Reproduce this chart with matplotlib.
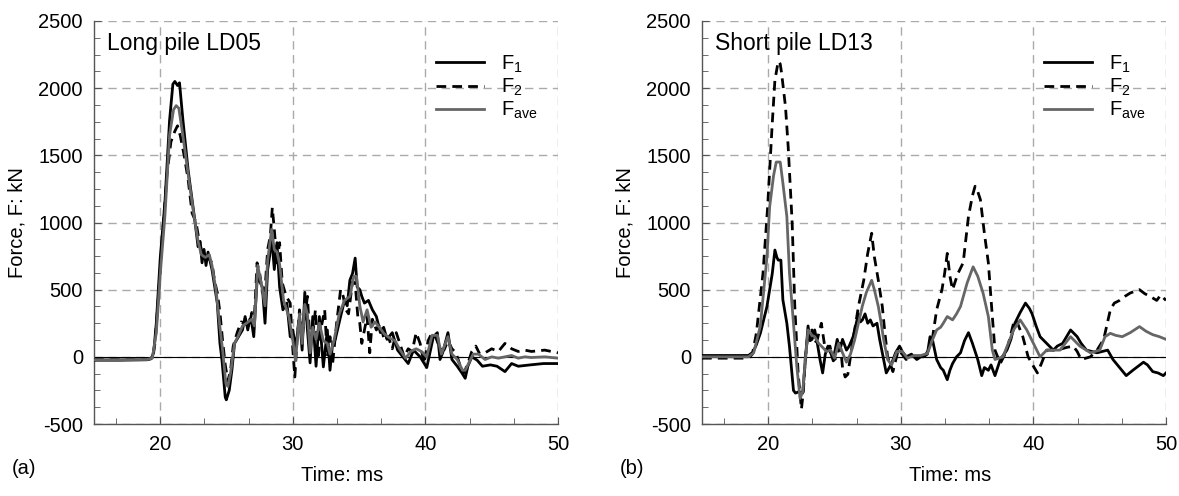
import numpy as np
import matplotlib
matplotlib.use('Agg')
import matplotlib.pyplot as plt
from matplotlib.ticker import MultipleLocator

plt.rcParams['font.family'] = ['Liberation Sans', 'DejaVu Sans']
plt.rcParams['axes.unicode_minus'] = False
plt.rcParams['mathtext.default'] = 'regular'

# ---- (a) Long pile LD05 ----
a_t1 = [15.0, 17.0, 19.0, 19.3, 19.5, 19.7, 20.0, 20.35, 20.7, 20.95, 21.1, 21.3, 21.45, 21.7, 22.1,
        22.6, 22.85, 23.0, 23.15, 23.3, 23.45, 23.6, 23.9, 24.3, 24.5, 24.65, 24.9, 24.98, 25.2, 25.4,
        25.6, 25.9, 26.2, 26.4, 26.6, 26.75, 26.9, 27.05, 27.35, 27.5, 27.7, 27.9, 28.1, 28.25, 28.4,
        28.6, 28.8, 29.0, 29.25, 29.55, 29.8, 30.0, 30.2, 30.5, 30.7, 30.9, 31.1, 31.3, 31.5, 31.75,
        32.0, 32.3, 32.6, 32.8, 33.0, 33.2, 33.6, 33.9, 34.1, 34.3, 34.5, 34.7, 34.85, 35.05, 35.2,
        35.4, 35.7, 36.0, 36.3, 36.6, 36.85, 37.1, 37.5, 37.9, 38.3, 38.7, 39.1, 39.6, 40.1, 40.6,
        40.9, 41.1, 41.3, 41.7, 42.0, 42.4, 42.75, 43.0, 43.2, 43.5, 43.9, 44.3, 44.9, 45.4, 46.0,
        46.5, 47.0, 47.9, 48.9, 50.0]
a_f1 = [-25, -25, -22, -15, 30, 250, 740, 1150, 1760, 2030, 2050, 2020, 2040, 1770, 1390,
        1020, 820, 860, 700, 800, 680, 780, 650, 400, 100, -20, -300, -320, -250, -100,
        100, 150, 200, 300, 200, 280, 250, 150, 650, 560, 520, 250, 650, 750, 900,
        650, 850, 520, 350, 400, 150, 200, 60, 300, 50, 480, 200, -45, 300, -70,
        300, -75, 200, -100, 100, 130, 300, 420, 380, 570, 620, 735, 520, 500, 450,
        400, 420, 350, 300, 180, 220, 130, 180, 50, 0, -50, 50, 0, -80, 150,
        180, -20, 30, 180, -20, -70, -120, -160, -70, 0, -25, -70, -60, -70, -110,
        -50, -70, -60, -50, -50]

a_t2 = [15.0, 19.0, 19.4, 19.6, 19.9, 20.2, 20.5, 20.8, 21.1, 21.3, 21.5, 21.8, 22.1, 22.4, 22.7,
        22.9, 23.1, 23.3, 23.6, 23.9, 24.1, 24.3, 24.5, 24.7, 24.9, 25.1, 25.3, 25.5, 25.8, 26.1,
        26.4, 26.7, 26.9, 27.1, 27.3, 27.5, 27.7, 27.9, 28.1, 28.3, 28.45, 28.6, 28.8, 29.0, 29.2,
        29.5, 29.8, 30.0, 30.15, 30.3, 30.5, 30.7, 30.9, 31.1, 31.3, 31.5, 31.7, 31.9, 32.1, 32.4,
        32.6, 32.8, 33.0, 33.3, 33.6, 33.8, 34.0, 34.2, 34.5, 34.7, 34.9, 35.05, 35.2, 35.4, 35.6,
        35.8, 36.0, 36.3, 36.6, 36.9, 37.2, 37.5, 37.8, 38.1, 38.4, 38.7, 39.0, 39.3, 39.6, 39.9,
        40.2, 40.5, 40.8, 41.1, 41.4, 41.7, 42.0, 42.3, 42.6, 42.9, 43.2, 43.5, 43.8, 44.1, 44.5,
        45.0, 45.5, 46.0, 46.5, 47.0, 47.5, 48.0, 48.5, 49.0, 49.5, 50.0]
a_f2 = [-20, -18, -10, 100, 500, 950, 1350, 1600, 1680, 1720, 1650, 1500, 1320, 1070, 1000,
        880, 800, 750, 740, 700, 560, 480, 330, 120, -60, -180, -100, 80, 180, 260,
        250, 220, 330, 300, 700, 620, 480, 500, 800, 900, 1110, 950, 700, 850, 550,
        450, 400, 50, -150, 100, 350, 150, 300, 450, 100, 150, 350, -20, 200, 350,
        0, 150, -50, 250, 500, 450, 350, 320, 560, 550, 300, 250, 100, 200, 300,
        30, 280, 200, 250, 120, 150, 60, 180, 90, 0, 60, 40, 180, 100, -50,
        120, 180, 140, 60, 50, 120, 60, 30, -60, -120, -50, 40, 80, 20, 30,
        60, 40, 100, 60, 40, 50, 40, 45, 50, 40, 30]

a_ta = [15.0, 19.0, 19.4, 19.7, 20.0, 20.35, 20.7, 21.0, 21.2, 21.4, 21.7, 22.1, 22.5, 22.85, 23.1,
        23.4, 23.7, 23.9, 24.2, 24.5, 24.7, 24.95, 25.1, 25.3, 25.6, 25.9, 26.2, 26.5, 26.9, 27.1,
        27.35, 27.7, 27.9, 28.1, 28.4, 28.6, 28.8, 29.0, 29.3, 29.7, 30.0, 30.2, 30.5, 30.7, 30.9,
        31.1, 31.3, 31.5, 31.75, 32.0, 32.3, 32.6, 32.8, 33.1, 33.5, 33.9, 34.3, 34.6, 34.8, 35.05,
        35.3, 35.6, 35.9, 36.2, 36.6, 36.9, 37.3, 37.7, 38.1, 38.5, 38.9, 39.3, 39.7, 40.1, 40.5,
        40.9, 41.2, 41.7, 42.0, 42.4, 42.8, 43.0, 43.3, 43.6, 44.0, 44.5, 45.0, 45.5, 46.0, 46.5,
        47.0, 47.5, 48.0, 49.0, 50.0]
a_fa = [-22, -20, -10, 180, 620, 1050, 1650, 1840, 1870, 1850, 1650, 1360, 1080, 860, 760,
        740, 760, 680, 500, 220, 50, -200, -220, -120, 100, 160, 230, 250, 280, 230,
        680, 500, 380, 720, 950, 800, 780, 690, 420, 300, 120, -30, 320, 100, 390,
        320, 30, 220, 130, 250, 120, 100, 20, 120, 320, 420, 450, 600, 600, 380,
        260, 350, 220, 260, 210, 170, 140, 120, 50, -10, 40, 60, 40, 0, 160,
        160, 20, 150, 20, -20, -100, -100, -40, 20, 20, -20, 0, -10, 0, 10,
        -10, 0, -5, 0, -10]

# ---- (b) Short pile LD13 ----
b_t1 = [15.0, 18.5, 18.85, 19.1, 19.4, 19.9, 20.3, 20.5, 20.65, 20.75, 20.95, 21.1, 21.4, 21.6, 21.9,
        22.05, 22.3, 22.6, 22.8, 23.0, 23.15, 23.3, 23.5, 23.7, 23.9, 24.1, 24.3, 24.5, 24.7, 24.9,
        25.2, 25.4, 25.6, 25.9, 26.1, 26.4, 26.8, 26.95, 27.1, 27.3, 27.5, 27.7, 27.9, 28.2, 28.4,
        28.7, 28.9, 29.3, 29.6, 29.9, 30.1, 30.4, 30.8, 31.2, 31.5, 31.7, 32.0, 32.2, 32.4, 32.7,
        33.0, 33.2, 33.5, 33.7, 33.9, 34.2, 34.5, 34.8, 35.1, 35.4, 35.8, 36.1, 36.3, 36.6, 36.8,
        37.1, 37.5, 38.0, 38.3, 38.6, 39.0, 39.4, 39.7, 39.9, 40.2, 40.5, 41.0, 41.5, 41.8, 42.2,
        42.5, 42.8, 43.0, 43.3, 43.6, 44.0, 44.4, 44.8, 45.2, 45.6, 46.0, 46.5, 47.0, 47.5, 47.9,
        48.3, 48.6, 49.0, 49.4, 49.8, 50.0]
b_f1 = [10, 10, 35, 90, 175, 375, 620, 795, 740, 720, 720, 425, 250, 75, -250,
        -270, -260, -270, -20, 230, 120, 130, 200, 100, -20, -120, 20, 80, 30, -20,
        130, 50, 130, 50, 80, 150, 320, 260, 275, 320, 250, 275, 230, 250, 130,
        -20, -120, -50, 30, 80, 40, 0, 20, -20, 0, 0, 20, 150, 120, -20,
        -80, -100, -170, -100, -50, 0, 30, 120, 180, 100, -20, -140, -80, -100, -60,
        -140, -20, 50, 130, 250, 330, 400, 360, 320, 230, 150, 100, 50, 80, 100,
        150, 200, 180, 150, 100, 50, 40, 30, 40, 50, -20, -80, -140, -100, -70,
        -40, -60, -110, -120, -140, -120]

b_t2 = [15.0, 18.5, 18.8, 19.1, 19.6, 19.95, 20.3, 20.5, 20.75, 20.9, 21.0, 21.3, 21.5, 21.8, 22.0,
        22.25, 22.5, 22.65, 22.8, 23.0, 23.3, 23.5, 23.7, 24.0, 24.3, 24.65, 24.9, 25.2, 25.4, 25.6,
        25.8, 26.0, 26.2, 26.4, 26.8, 27.2, 27.5, 27.8, 28.0, 28.3, 28.6, 28.8, 29.0, 29.4, 29.8,
        30.1, 30.4, 30.8, 31.2, 31.6, 32.0, 32.4, 32.7, 33.1, 33.3, 33.5, 33.7, 33.9, 34.1, 34.3,
        34.7, 35.1, 35.4, 35.6, 35.8, 36.0, 36.3, 36.6, 36.9, 37.1, 37.5, 38.0, 38.5, 38.7, 39.2,
        39.6, 40.0, 40.3, 40.6, 41.0, 41.8, 42.5, 43.0, 43.3, 43.6, 44.3, 44.8, 45.3, 45.8, 46.1,
        46.5, 46.9, 47.3, 47.7, 48.0, 48.4, 48.8, 49.3, 49.6, 50.0]
b_f2 = [-10, -10, 20, 175, 620, 1115, 1740, 2060, 2200, 2180, 2115, 1860, 1565, 1000, 375,
        -120, -390, -250, 0, 175, 200, 100, 130, 250, 50, 80, -30, 0, 130, -80,
        -150, -130, 0, 130, 375, 570, 770, 920, 745, 570, 375, 175, 0, -110, 50,
        20, -20, 10, -10, 20, 30, 150, 350, 500, 620, 770, 600, 500, 560, 620,
        700, 1045, 1200, 1270, 1230, 1170, 920, 700, 300, 50, -50, 50, 250, 275, 150,
        0, -70, -120, -50, 50, 50, 70, 80, 40, -20, 0, 50, 130, 350, 400,
        420, 450, 475, 490, 500, 470, 450, 420, 460, 420]

b_ta = [15.0, 18.5, 18.9, 19.4, 19.9, 20.1, 20.4, 20.6, 20.9, 21.1, 21.4, 21.6, 21.9, 22.15, 22.4,
        22.6, 22.8, 23.0, 23.3, 23.5, 23.8, 24.1, 24.4, 24.7, 25.0, 25.3, 25.6, 25.9, 26.2, 26.5,
        26.8, 27.1, 27.4, 27.8, 28.0, 28.3, 28.5, 28.7, 29.0, 29.3, 29.7, 30.1, 30.5, 31.0, 31.5,
        32.0, 32.4, 32.7, 33.0, 33.2, 33.5, 33.9, 34.2, 34.5, 35.0, 35.45, 35.8, 36.2, 36.6, 36.9,
        37.1, 37.7, 38.1, 38.5, 39.0, 39.5, 40.0, 40.5, 41.0, 42.0, 42.8, 43.5, 44.3, 45.0, 45.4,
        45.8, 46.2, 46.7, 47.3, 48.0, 48.5, 49.0, 49.5, 50.0]
b_fa = [0, 0, 30, 230, 745, 1115, 1350, 1450, 1450, 1295, 1045, 620, 250, -70, -310,
        -260, -10, 200, 160, 150, 100, 70, 40, 50, -10, 100, 30, -40, 20, 120,
        250, 380, 480, 570, 500, 375, 260, 130, -20, -60, 40, 40, -10, 10, 10,
        25, 130, 200, 220, 250, 300, 275, 320, 375, 550, 670, 600, 475, 300, 50,
        -20, 0, 100, 200, 275, 200, 100, 0, 50, 50, 150, 80, 30, 50, 150,
        175, 160, 150, 180, 225, 190, 165, 150, 130]

panels = [
    ('Long pile LD05', '(a)', a_t1, a_f1, a_t2, a_f2, a_ta, a_fa),
    ('Short pile LD13', '(b)', b_t1, b_f1, b_t2, b_f2, b_ta, b_fa),
]

fig = plt.figure(figsize=(11.79, 4.96), dpi=100)
lefts = [94 / 1179, 702 / 1179]

for i, (title, tag, t1, f1, t2, f2, ta, fa) in enumerate(panels):
    ax = fig.add_axes([lefts[i], 72 / 496, 464 / 1179, 403 / 496])
    ax.axhline(0, color='black', lw=0.8, zorder=1)
    ax.plot(t1, f1, color='black', lw=2.0, label='F$_1$', zorder=3)
    ax.plot(t2, f2, color='black', lw=2.0, ls=(0, (3.5, 2.2)), label='F$_2$', zorder=4)
    ax.plot(ta, fa, color='#666666', lw=2.0, label='F$_{ave}$', zorder=5)

    ax.set_xlim(15, 50)
    ax.set_ylim(-500, 2500)
    ax.set_xticks([20, 30, 40, 50])
    ax.set_yticks(np.arange(-500, 2501, 500))
    ax.xaxis.set_minor_locator(MultipleLocator(10 / 3))
    ax.yaxis.set_minor_locator(MultipleLocator(125))
    ax.tick_params(which='both', direction='in', top=False, right=False, labelsize=14.5,
                   color='#555555')
    ax.tick_params(which='major', length=5, pad=8)
    ax.tick_params(which='minor', length=4)
    ax.grid(True, which='major', color='#aaaaaa', ls=(0, (6, 4)), lw=1.0)
    ax.set_axisbelow(True)
    for s in ['top', 'right']:
        ax.spines[s].set_visible(False)
    for s in ['left', 'bottom']:
        ax.spines[s].set_color('#555555')
        ax.spines[s].set_linewidth(1.0)

    ax.set_xlabel('Time: ms', fontsize=14.5)
    ax.xaxis.set_label_coords(0.535, -0.105)
    ax.set_ylabel('Force, F: kN', fontsize=14.5)
    ax.yaxis.set_label_coords(-0.145, 0.5)
    ax.text(0.028, 0.945, title, transform=ax.transAxes, fontsize=16.5, va='center', ha='left')
    ax.legend(loc='upper left', bbox_to_anchor=(0.72, 0.94), frameon=False, fontsize=14.5,
              handlelength=2.4, handletextpad=0.8, labelspacing=0.1, borderaxespad=0)
    fig.text(lefts[i] - 82 / 1179, 28 / 496, tag, fontsize=14.5, va='center', ha='left')

fig.savefig('out.png', dpi=100)
